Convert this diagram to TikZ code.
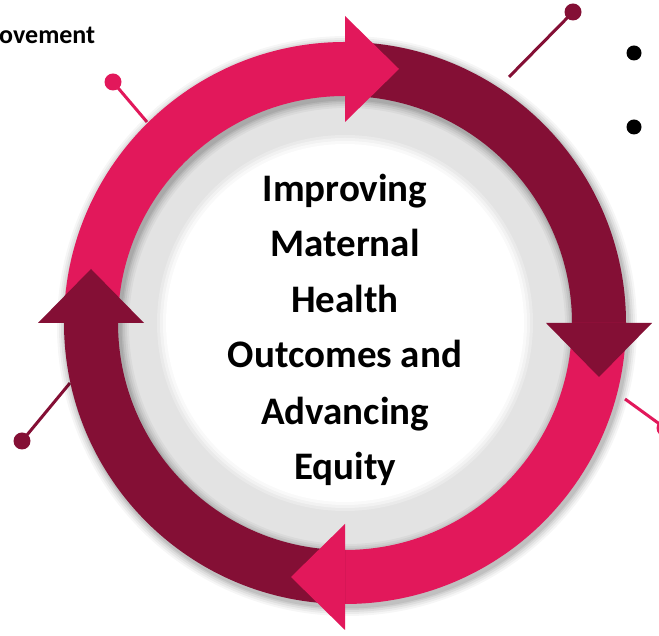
\documentclass[tikz,border=0pt]{standalone}
\usepackage{fontspec}
\setmainfont{Carlito}
\definecolor{pinkc}{HTML}{E2185B}
\definecolor{darkc}{HTML}{840F35}
\definecolor{grayc}{HTML}{E3E3E3}
\begin{document}
\begin{tikzpicture}[x=1pt,y=1pt,
  pinline/.style={line width=3pt},
  pinhead/.style={circle, inner sep=0pt, minimum size=17pt},
  bulletdot/.style={circle, fill=black, inner sep=0pt, minimum size=15pt},
  centertext/.style={font=\fontsize{39}{47}\selectfont\bfseries, anchor=base, inner sep=0pt},
]
\useasboundingbox (0,0) rectangle (659,636);
\fill[white] (0,0) rectangle (659,636);
\coordinate (C) at (345,313);

% pins
\node[pinhead, fill=pinkc] (p1) at (113,554) {};
\coordinate (p1e) at (147,514);
\draw[pinline, pinkc] (p1.center) -- (p1e);
\node[pinhead, fill=darkc] (p2) at (573,624) {};
\coordinate (p2e) at (509,559);
\draw[pinline, darkc] (p2.center) -- (p2e);
\node[pinhead, fill=pinkc] (p3) at (665,208) {};
\coordinate (p3e) at (625,237);
\draw[pinline, pinkc] (p3.center) -- (p3e);
\node[pinhead, fill=darkc] (p4) at (22,195) {};
\coordinate (p4e) at (70,253);
\draw[pinline, darkc] (p4.center) -- (p4e);

% gray disk and white centre
\fill[grayc] (C) circle[radius=229pt];
\foreach \r/\o in {188/0.25, 185/0.4, 182/0.6} {
  \fill[white, opacity=\o] (C) circle[radius=\r pt];
}
\fill[white] (C) circle[radius=179pt];

% ring shadow
\foreach \w/\o in {72/0.035, 68/0.045, 64/0.055, 60/0.065, 57/0.07} {
  \draw[black, opacity=\o, line width=\w pt] ([shift={(2pt,-3pt)}]C) circle[radius=254pt];
}

% shafts
\fill[pinkc] ([shift={(180:281pt)}]C) arc[start angle=180, end angle=90, radius=281pt]
  -- ([shift={(90:227pt)}]C) arc[start angle=90, end angle=180, radius=227pt] -- cycle;
\fill[darkc] ([shift={(90:281pt)}]C) arc[start angle=90, end angle=0, radius=281pt]
  -- ([shift={(0:227pt)}]C) arc[start angle=0, end angle=90, radius=227pt] -- cycle;
\fill[pinkc] ([shift={(0:281pt)}]C) arc[start angle=0, end angle=-90, radius=281pt]
  -- ([shift={(-90:227pt)}]C) arc[start angle=-90, end angle=0, radius=227pt] -- cycle;
\fill[darkc] ([shift={(-90:281pt)}]C) arc[start angle=-90, end angle=-180, radius=281pt]
  -- ([shift={(180:227pt)}]C) arc[start angle=180, end angle=270, radius=227pt] -- cycle;

% arrowheads
\fill[pinkc] ([shift={(90:201pt)}]C) -- ([shift={(90:307pt)}]C) -- ([shift={(54pt,254pt)}]C) -- cycle;
\fill[darkc] ([shift={(0:201pt)}]C) -- ([shift={(0:307pt)}]C) -- ([shift={(254pt,-54pt)}]C) -- cycle;
\fill[pinkc] ([shift={(-90:201pt)}]C) -- ([shift={(-90:307pt)}]C) -- ([shift={(-54pt,-254pt)}]C) -- cycle;
\fill[darkc] ([shift={(180:201pt)}]C) -- ([shift={(180:307pt)}]C) -- ([shift={(-254pt,54pt)}]C) -- cycle;

% centre text
\node[centertext] (t1) at (345,434) {Improving};
\node[centertext] (t2) at (345,379) {Maternal};
\node[centertext] (t3) at (345,323) {Health};
\node[centertext] (t4) at (345,268) {Outcomes and};
\node[centertext] (t5) at (345,211) {Advancing};
\node[centertext] (t6) at (345,156) {Equity};

% cut-off label and bullets
\node[font=\fontsize{26}{30}\selectfont\bfseries, anchor=base west, inner sep=0pt] (lbl) at (-1,592) {ovement};
\node[bulletdot] (b1) at (634,583) {};
\node[bulletdot] (b2) at (634,509) {};
\end{tikzpicture}
\end{document}
